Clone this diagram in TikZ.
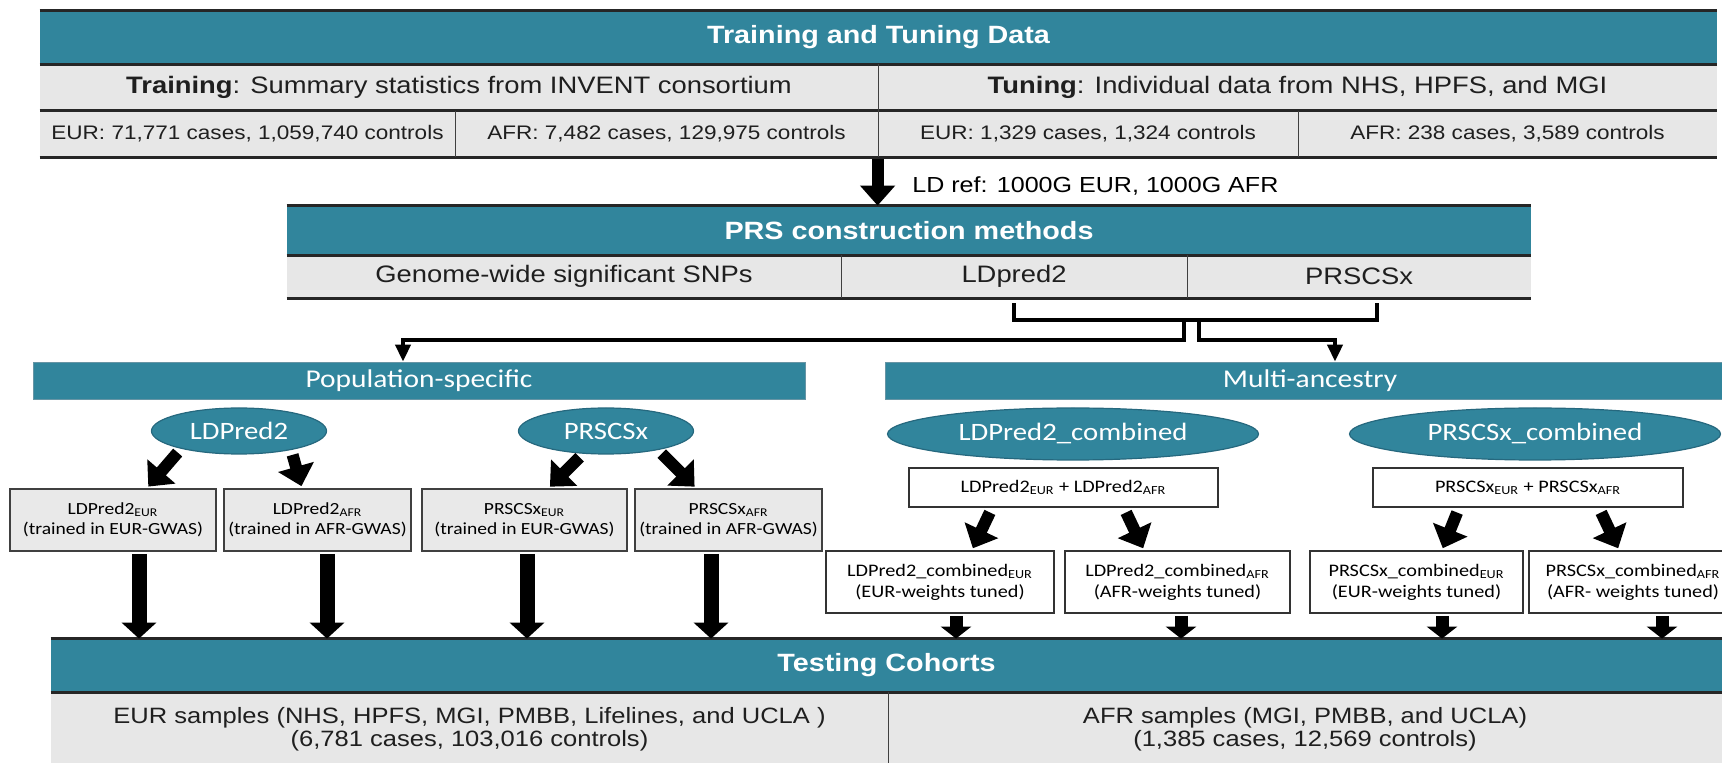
\documentclass[tikz,border=0pt]{standalone}
\usepackage{fontspec}
\setmainfont{Liberation Sans}[FakeStretch=1.15]
\newfontfamily\calfont{Carlito}[FakeStretch=1.15]
\usetikzlibrary{arrows.meta,shapes.geometric,shadows}
\definecolor{tealbar}{RGB}{49,133,156}
\definecolor{tealedge}{RGB}{38,104,126}
\definecolor{cellgray}{RGB}{231,231,231}
\definecolor{boxgray}{RGB}{233,233,233}

\begin{document}
\begin{tikzpicture}[x=0.5pt,y=-0.5pt]
  \tikzset{
    headbar/.style={fill=tealbar,text=white,inner sep=0pt,font=\fontsize{12.5}{14}\selectfont\bfseries},
    cell/.style={fill=cellgray,inner sep=0pt,text=black!88},
    rowtxt/.style={font=\fontsize{11.9}{13}\selectfont},
    subtxt/.style={font=\fontsize{9.8}{11}\selectfont},
    hrule/.style={draw=black!85,line width=1.5pt},
    divline/.style={draw=black!75,line width=0.7pt},
    band/.style={fill=tealbar,draw=tealedge!70,line width=0.4pt,text=white,inner sep=0pt,font=\calfont\fontsize{12.8}{15}\selectfont},
    pill/.style={ellipse,fill=tealbar,draw=tealedge,line width=0.6pt,text=white,inner sep=0pt,font=\calfont\fontsize{12.5}{14}\selectfont},
    gbox/.style={fill=boxgray,draw=black!75,line width=0.9pt,inner sep=0pt,align=center,minimum height=31pt,
      font=\calfont\fontsize{8.5}{10}\selectfont,drop shadow={shadow xshift=0.6pt,shadow yshift=-0.6pt,fill=black!60,opacity=1}},
    wbox/.style={fill=white,draw=black!80,line width=0.9pt,inner sep=0pt,align=center,minimum height=31pt,
      font=\calfont\fontsize{8.8}{10.5}\selectfont,drop shadow={shadow xshift=0.6pt,shadow yshift=-0.6pt,fill=black!60,opacity=1}},
    droparrow/.style={draw=black,line width=6pt,-{Triangle[width=17pt,length=10pt]}},
    blockarrow/.style={draw=black,line width=7.5pt,-{Triangle[width=17pt,length=8pt]}},
    stubarrow/.style={draw=black,line width=6.5pt,-{Triangle[width=15pt,length=6pt]}},
    fatarrow/.style={draw=black,line width=6pt,-{Triangle[width=18pt,length=10pt]},shorten <=2.5pt,shorten >=1pt},
    bracket/.style={draw=black,line width=2pt},
    brarrow/.style={draw=black,line width=2pt,-{Triangle[width=7.5pt,length=8.5pt]}},
  }
  \useasboundingbox (0,0) rectangle (1722,763);
  \clip (0,0) rectangle (1722,763);

  % training and tuning table
  \node[headbar,minimum width=838.5pt,minimum height=26.5pt] (tdata) at (878.5,37.5) {Training and Tuning Data};
  \node[cell,rowtxt,minimum width=419pt,minimum height=23.5pt] (train) at (459,87.5) {\textbf{Training}: Summary statistics from INVENT consortium};
  \node[cell,rowtxt,minimum width=419.5pt,minimum height=23.5pt] (tune) at (1297.5,87.5) {\textbf{Tuning}: Individual data from NHS, HPFS, and MGI};
  \node[cell,subtxt,minimum width=207.5pt,minimum height=23pt] (eurtrain) at (247.5,134) {EUR: 71,771 cases, 1,059,740 controls};
  \node[cell,subtxt,minimum width=211.5pt,minimum height=23pt] (afrtrain) at (666.5,134) {AFR: 7,482 cases, 129,975 controls};
  \node[cell,subtxt,minimum width=210pt,minimum height=23pt] (eurtune) at (1088,134) {EUR: 1,329 cases, 1,324 controls};
  \node[cell,subtxt,minimum width=209.5pt,minimum height=23pt] (afrtune) at (1507.5,134) {AFR: 238 cases, 3,589 controls};
  \draw[hrule] (tdata.north west) -- (tdata.north east) (tdata.south west) -- (tdata.south east);
  \draw[hrule] (eurtrain.north west) -- (afrtune.north east) (eurtrain.south west) -- (afrtune.south east);
  \draw[divline] (train.north east) -- (train.south east);
  \draw[divline] (eurtrain.north east) -- (eurtrain.south east) (afrtrain.north east) -- (afrtrain.south east)
    (eurtune.north east) -- (eurtune.south east);

  % PRS construction methods
  \node[headbar,minimum width=622pt,minimum height=24.5pt] (prshead) at (909,230.5) {PRS construction methods};
  \node[cell,rowtxt,minimum width=277pt,minimum height=21.5pt] (gws) at (564,276.5) {Genome-wide significant SNPs};
  \node[cell,rowtxt,minimum width=173pt,minimum height=21.5pt] (ldp) at (1014,276.5) {LDpred2};
  \node[cell,rowtxt,minimum width=172pt,minimum height=21.5pt] (prs) at (1359,276.5) {PRSCSx};
  \draw[hrule,line width=1.2pt] (prshead.north west) -- (prshead.north east) (prshead.south west) -- (prshead.south east)
    (gws.south west) -- (prs.south east);
  \draw[divline] (gws.north east) -- (gws.south east) (ldp.north east) -- (ldp.south east);

  \draw[droparrow] ([yshift=-1pt]eurtune.south west) -- (eurtune.south west |- prshead.north);
  \node[rowtxt,font=\fontsize{10.9}{12}\selectfont,anchor=west,inner sep=0pt] (ldref) at (912,186) {LD ref: 1000G EUR, 1000G AFR};

  % split into the two families
  \draw[bracket] ([yshift=-2.5pt]ldp.south) -- ++(0,17) -| ([xshift=9pt,yshift=-2.5pt]prs.south);
  \coordinate (fork) at (1191.5,320);
  \node[band,minimum width=386pt,minimum height=18.5pt] (popbar) at (419,380.5) {Population-specific};
  \node[band,minimum width=425pt,minimum height=18.5pt] (multibar) at (1310,380.5) {Multi-ancestry};
  \draw[brarrow] ([xshift=-3.75pt]fork) -- ++(0,20) -| ([xshift=-8pt]popbar.north);
  \draw[brarrow] ([xshift=3.75pt]fork) -- ++(0,20) -| ([xshift=12.5pt]multibar.north);

  % population-specific
  \node[pill,minimum width=87.5pt,minimum height=23pt] (eLDP) at (239,431) {LDPred2};
  \node[pill,minimum width=87.5pt,minimum height=23pt] (ePRS) at (606,431) {PRSCSx};
  \node[gbox,minimum width=103pt] (bLDPe) at (113,520) {LDPred2\textsubscript{EUR}\\(trained in EUR-GWAS)};
  \node[gbox,minimum width=93.5pt] (bLDPa) at (317.5,520) {LDPred2\textsubscript{AFR}\\(trained in AFR-GWAS)};
  \node[gbox,minimum width=102.5pt] (bPRSe) at (524.5,520) {PRSCSx\textsubscript{EUR}\\(trained in EUR-GWAS)};
  \node[gbox,minimum width=93.5pt] (bPRSa) at (728.5,520) {PRSCSx\textsubscript{AFR}\\(trained in AFR-GWAS)};
  \draw[fatarrow] (eLDP.197) -- ([xshift=17pt]bLDPe.north);
  \draw[fatarrow] (eLDP.340) -- ([xshift=-7.75pt]bLDPa.north);
  \draw[fatarrow] (ePRS.225) -- ([xshift=12pt]bPRSe.north);
  \draw[fatarrow] (ePRS.340) -- ([xshift=-16.25pt]bPRSa.north);

  % multi-ancestry
  \node[pill,minimum width=185.5pt,minimum height=26pt] (eLDPc) at (1073,434) {LDPred2\_combined};
  \node[pill,minimum width=185.5pt,minimum height=26pt] (ePRSc) at (1535,434) {PRSCSx\_combined};
  \node[wbox,minimum width=154.5pt,minimum height=19.5pt] (sLDP) at (1063.5,487.5) {LDPred2\textsubscript{EUR} + LDPred2\textsubscript{AFR}};
  \node[wbox,minimum width=155pt,minimum height=19.5pt] (sPRS) at (1528,487.5) {PRSCSx\textsubscript{EUR} + PRSCSx\textsubscript{AFR}};
  \node[wbox,minimum width=114pt] (cLDPe) at (940,582) {LDPred2\_combined\textsubscript{EUR}\\(EUR-weights tuned)};
  \node[wbox,minimum width=112.5pt] (cLDPa) at (1177.5,582) {LDPred2\_combined\textsubscript{AFR}\\(AFR-weights tuned)};
  \node[wbox,minimum width=106.5pt] (cPRSe) at (1416.5,582) {PRSCSx\_combined\textsubscript{EUR}\\(EUR-weights tuned)};
  \node[wbox,minimum width=104pt] (cPRSa) at (1633,582) {PRSCSx\_combined\textsubscript{AFR}\\(AFR- weights tuned)};
  \draw[fatarrow] ([xshift=-35.75pt]sLDP.south) -- ([xshift=16pt]cLDPe.north);
  \draw[fatarrow] ([xshift=30.25pt]sLDP.south) -- ([xshift=-16.75pt]cLDPa.north);
  \draw[fatarrow] ([xshift=-34.5pt]sPRS.south) -- ([xshift=12.75pt]cPRSe.north);
  \draw[fatarrow] ([xshift=35.5pt]sPRS.south) -- ([xshift=-7pt]cPRSa.north);

  % testing cohorts
  \node[headbar,minimum width=835.5pt,minimum height=26.5pt] (testhead) at (886.5,665.5) {Testing Cohorts};
  \node[cell,rowtxt,align=center,font=\fontsize{11.1}{11.6}\selectfont,minimum width=418.5pt,minimum height=37pt] (eurtest) at (469.5,729)
    {EUR samples (NHS, HPFS, MGI, PMBB, Lifelines, and UCLA )\\(6,781 cases, 103,016 controls)};
  \node[cell,rowtxt,align=center,font=\fontsize{11.1}{11.6}\selectfont,minimum width=417pt,minimum height=37pt] (afrtest) at (1305,729)
    {AFR samples (MGI, PMBB, and UCLA)\\(1,385 cases, 12,569 controls)};
  \draw[hrule] (testhead.north west) -- (testhead.north east) (testhead.south west) -- (testhead.south east);
  \draw[divline] (eurtest.north east) -- (eurtest.south east);

  \foreach \b/\dx in {bLDPe/13pt,bLDPa/4.75pt,bPRSe/1.25pt,bPRSa/-8.75pt} {
    \coordinate (tail) at ([xshift=\dx,yshift=-1pt]\b.south);
    \draw[blockarrow] (tail) -- (tail |- testhead.north);
  }
  \foreach \b/\dx in {cLDPe/8pt,cLDPa/1.75pt,cPRSe/12.75pt,cPRSa/14.5pt} {
    \coordinate (tail) at ([xshift=\dx,yshift=-1pt]\b.south);
    \draw[stubarrow] (tail) -- (tail |- testhead.north);
  }
\end{tikzpicture}
\end{document}
